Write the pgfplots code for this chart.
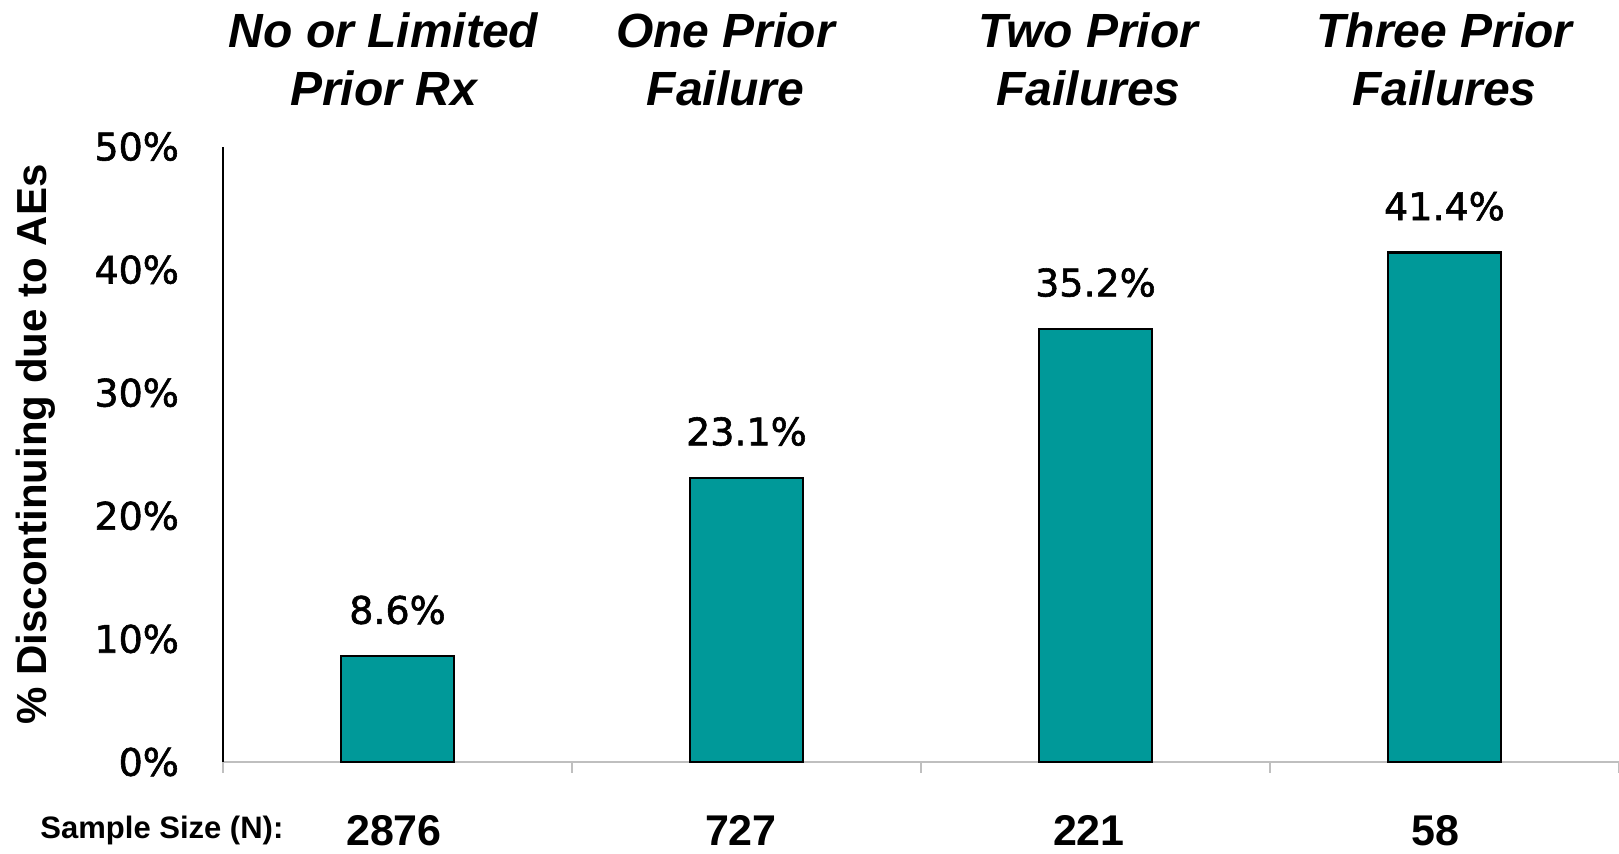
\documentclass[border=0pt]{standalone}
\usepackage{fontspec}
\setmainfont[FakeBold=1.5]{DejaVu Sans}
\newfontfamily\arialfont{Liberation Sans}
\usepackage{pgfplots}
\pgfplotsset{compat=1.18}
\definecolor{barteal}{RGB}{0,153,153}
\begin{document}
\begin{tikzpicture}
\path[use as bounding box] (0,0) rectangle (809.5pt,427pt);
\begin{axis}[
  at={(111.5pt,46pt)}, anchor=south west,
  scale only axis, width=698pt, height=307.7pt,
  xmin=0, xmax=4, ymin=0, ymax=50,
  axis lines*=left,
  x axis line style={draw=black!25, line width=1.2pt},
  y axis line style={draw=black, line width=1.2pt},
  xtick={0,1,2,3,4}, xticklabels={},
  x tick style={draw=black!25, line width=1.2pt},
  tick align=outside, major tick length=5.5pt,
  ytick={0,10,...,50},
  y tick style={draw=none},
  /pgf/number format/assume math mode=true,
  yticklabel={\pgfmathprintnumber{\tick}\%},
  yticklabel style={font=\fontsize{19}{22}\selectfont, xshift=-13pt},
  ybar, bar width=0.324,
  clip=false,
  nodes near coords={\pgfmathprintnumber[fixed,precision=1,fixed zerofill]{\pgfplotspointmeta}\%},
  every node near coord/.append style={font=\fontsize{19}{22}\selectfont, anchor=south, yshift=12pt},
]
\addplot[fill=barteal, draw=black, line width=1.1pt] coordinates {(0.5,8.6) (1.5,23.1) (2.5,35.2) (3.5,41.4)};

% group headings above the bars
\begin{scope}[every node/.style={font=\arialfont\bfseries\itshape\fontsize{24}{29}\selectfont, align=center}]
\node at (axis cs:0.46,57.1) {No or Limited\\Prior Rx};
\node at (axis cs:1.44,57.1) {One Prior\\Failure};
\node at (axis cs:2.48,57.1) {Two Prior\\Failures};
\node at (axis cs:3.50,57.1) {Three Prior\\Failures};
\end{scope}

% y-axis title
\node[rotate=90, font=\arialfont\bfseries\fontsize{21}{25}\selectfont] at (axis cs:-0.536,25.8) {\% Discontinuing due to AEs};

% sample sizes under each group
\node[inner sep=0pt, font=\arialfont\bfseries\fontsize{15.5}{18}\selectfont] at (axis cs:-0.175,-5.55) {Sample Size (N):};
\begin{scope}[every node/.style={inner sep=0pt, font=\arialfont\bfseries\fontsize{21.5}{25}\selectfont}]
\node at (axis cs:0.49,-5.55) {2876};
\node at (axis cs:1.484,-5.55) {727};
\node at (axis cs:2.481,-5.55) {221};
\node at (axis cs:3.473,-5.55) {58};
\end{scope}
\end{axis}
\end{tikzpicture}
\end{document}
